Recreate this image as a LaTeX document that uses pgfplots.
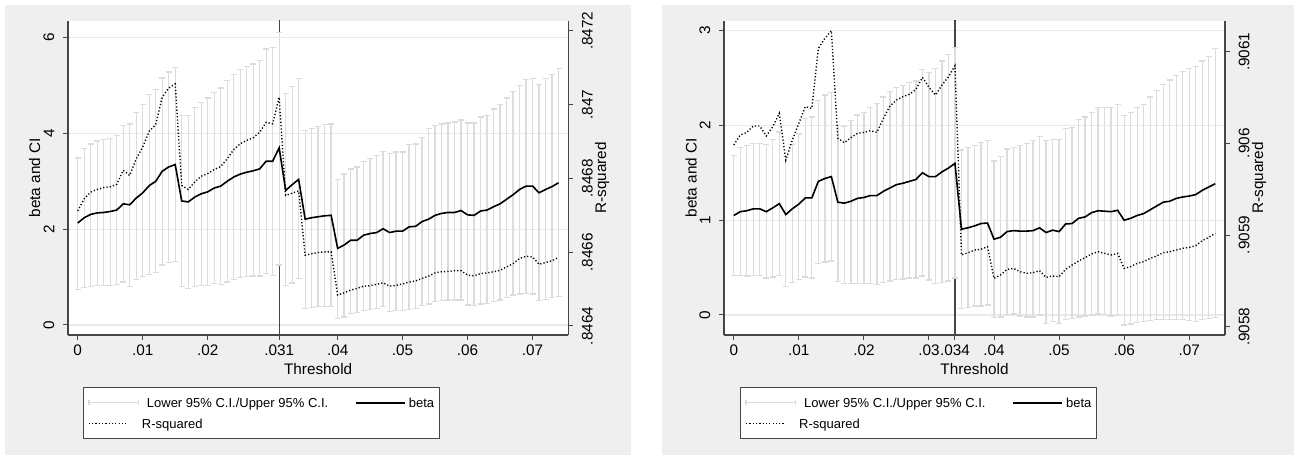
\documentclass[border=0pt]{standalone}
\usepackage{fontspec}
\setmainfont{Liberation Sans}
\usepackage{pgfplots}
\usepackage{pgfplotstable}
\pgfplotsset{compat=1.18}

\definecolor{panel}{RGB}{239,239,239}
\definecolor{cigray}{RGB}{220,220,220}
\definecolor{gridgray}{RGB}{234,234,234}
\definecolor{axisgray}{RGB}{70,70,70}

\newcommand{\axisfont}{\fontsize{15.3}{18}\selectfont}

% threshold, beta, lower CI, upper CI, R-squared
\pgfplotstableread{
x     b     lo    hi    r
0.000 2.13  0.74  3.49  .846712
0.001 2.24  0.78  3.69  .846745
0.002 2.31  0.81  3.78  .846763
0.003 2.34  0.83  3.84  .846770
0.004 2.35  0.83  3.875 .846775
0.005 2.37  0.83  3.90  .846777
0.006 2.40  0.85  3.96  .846784
0.007 2.53  0.90  4.17  .846822
0.008 2.51  0.81  4.20  .846808
0.009 2.65  0.95  4.43  .846853
0.010 2.76  1.01  4.60  .846885
0.011 2.91  1.06  4.81  .846928
0.012 3.00  1.09  4.92  .846946
0.013 3.21  1.25  5.16  .847020
0.014 3.30  1.30  5.28  .847045
0.015 3.35  1.32  5.37  .847056
0.016 2.59  0.80  4.375 .846781
0.017 2.57  0.76  4.375 .846770
0.018 2.67  0.81  4.535 .846790
0.019 2.74  0.83  4.65  .846806
0.020 2.78  0.83  4.74  .846813
0.021 2.86  0.87  4.86  .846824
0.022 2.90  0.85  4.95  .846832
0.023 3.00  0.90  5.10  .846853
0.024 3.09  0.95  5.23  .846878
0.025 3.15  0.99  5.33  .846894
0.026 3.19  1.01  5.40  .846903
0.027 3.22  1.02  5.45  .846910
0.028 3.26  1.02  5.52  .846925
0.029 3.42  1.08  5.76  .846952
0.030 3.42  1.04  5.80  .846948
0.031 3.70  1.25  6.11  .847020
0.032 2.81  0.83  4.84  .846754
0.033 2.93  0.88  4.98  .846760
0.034 3.04  0.97  5.14  .846766
0.035 2.21  0.35  4.06  .846592
0.036 2.24  0.37  4.11  .846596
0.037 2.26  0.38  4.15  .846599
0.038 2.28  0.38  4.19  .846601
0.039 2.29  0.38  4.20  .846601
0.040 1.60  0.14  3.04  .846484
0.041 1.67  0.17  3.15  .846490
0.042 1.77  0.24  3.26  .846497
0.043 1.77  0.26  3.30  .846502
0.044 1.875 0.31  3.42  .846508
0.045 1.91  0.33  3.47  .846509
0.046 1.93  0.35  3.54  .846513
0.047 2.01  0.38  3.63  .846517
0.048 1.93  0.28  3.58  .846508
0.049 1.96  0.30  3.61  .846510
0.050 1.96  0.31  3.61  .846514
0.051 2.05  0.33  3.77  .846519
0.052 2.06  0.35  3.78  .846522
0.053 2.16  0.40  3.92  .846529
0.054 2.21  0.44  4.11  .846535
0.055 2.29  0.49  4.17  .846544
0.056 2.33  0.51  4.20  .846547
0.057 2.35  0.52  4.22  .846548
0.058 2.35  0.52  4.24  .846550
0.059 2.39  0.52  4.28  .846550
0.060 2.30  0.42  4.22  .846538
0.061 2.29  0.40  4.22  .846536
0.062 2.38  0.44  4.34  .846542
0.063 2.40  0.45  4.375 .846544
0.064 2.47  0.49  4.51  .846547
0.065 2.53  0.52  4.60  .846551
0.066 2.625 0.58  4.74  .846560
0.067 2.72  0.625 4.88  .846569
0.068 2.83  0.65  5.00  .846583
0.069 2.90  0.66  5.125 .846589
0.070 2.90  0.65  5.15  .846587
0.071 2.76  0.51  5.02  .846567
0.072 2.83  0.53  5.14  .846572
0.073 2.89  0.57  5.23  .846577
0.074 2.97  0.60  5.35  .846586
}\leftdata

\pgfplotstableread{
x     b     lo     hi    r
0.000 1.05  0.42   1.68  .9059982
0.001 1.09  0.42   1.77  .9060091
0.002 1.10  0.41   1.79  .9060120
0.003 1.12  0.42   1.81  .9060189
0.004 1.12  0.42   1.81  .9060189
0.005 1.09  0.39   1.80  .9060080
0.006 1.13  0.40   1.85  .9060182
0.007 1.175 0.42   1.93  .9060327
0.008 1.06  0.30   1.68  .9059818
0.009 1.12  0.34   1.80  .9060036
0.010 1.17  0.375  1.91  .9060218
0.011 1.235 0.40   2.07  .9060400
0.012 1.235 0.39   2.09  .9060382
0.013 1.41  0.54   2.26  .9061036
0.014 1.44  0.56   2.32  .9061145
0.015 1.46  0.57   2.35  .9061229
0.016 1.19  0.35   2.00  .9060055
0.017 1.18  0.33   1.99  .9060007
0.018 1.20  0.33   2.05  .9060062
0.019 1.23  0.33   2.11  .9060109
0.020 1.24  0.33   2.14  .9060120
0.021 1.26  0.33   2.19  .9060138
0.022 1.26  0.32   2.23  .9060120
0.023 1.305 0.34   2.30  .9060273
0.024 1.34  0.36   2.36  .9060407
0.025 1.375 0.375  2.40  .9060473
0.026 1.39  0.38   2.42  .9060509
0.027 1.41  0.39   2.45  .9060535
0.028 1.43  0.39   2.47  .9060589
0.029 1.50  0.41   2.59  .9060720
0.030 1.46  0.37   2.56  .9060611
0.031 1.46  0.33   2.60  .9060527
0.032 1.51  0.34   2.68  .9060636
0.033 1.55  0.36   2.75  .9060727
0.034 1.60  0.39   2.82  .9060847
0.035 0.905 0.07   1.74  .9058782
0.036 0.92  0.08   1.77  .9058807
0.037 0.94  0.095  1.79  .9058836
0.038 0.965 0.095  1.82  .9058844
0.039 0.97  0.105  1.84  .9058873
0.040 0.80  -0.025 1.625 .9058527
0.041 0.82  -0.02  1.67  .9058564
0.042 0.88  0.007  1.75  .9058625
0.043 0.89  0.01   1.77  .9058636
0.044 0.885 -0.01  1.79  .9058600
0.045 0.885 -0.02  1.81  .9058582
0.046 0.89  -0.02  1.84  .9058589
0.047 0.92  0.0    1.88  .9058611
0.048 0.87  -0.09  1.84  .9058538
0.049 0.895 -0.07  1.85  .9058553
0.050 0.88  -0.09  1.85  .9058545
0.051 0.96  -0.045 1.965 .9058625
0.052 0.965 -0.035 1.975 .9058673
0.053 1.02  -0.02  2.06  .9058716
0.054 1.035 -0.01  2.09  .9058753
0.055 1.08  0.0    2.14  .9058793
0.056 1.10  0.01   2.19  .9058818
0.057 1.095 0.007  2.19  .9058800
0.058 1.09  -0.01  2.19  .9058782
0.059 1.105 -0.007 2.22  .9058800
0.060 1.00  -0.105 2.105 .9058636
0.061 1.02  -0.095 2.14  .9058655
0.062 1.05  -0.08  2.19  .9058691
0.063 1.07  -0.07  2.22  .9058709
0.064 1.11  -0.06  2.30  .9058745
0.065 1.15  -0.05  2.37  .9058771
0.066 1.19  -0.05  2.43  .9058807
0.067 1.20  -0.05  2.48  .9058818
0.068 1.23  -0.045 2.53  .9058836
0.069 1.245 -0.05  2.57  .9058855
0.070 1.255 -0.06  2.60  .9058865
0.071 1.27  -0.07  2.62  .9058884
0.072 1.315 -0.045 2.68  .9058938
0.073 1.35  -0.035 2.73  .9058975
0.074 1.385 -0.025 2.81  .9059018
}\rightdata

\pgfplotsset{
  panelbase/.style={
    scale only axis, anchor=south west, height=314.3pt,
    xmin=-0.0015, xmax=0.0755,
    scaled ticks=false,
    tick align=outside, major tick length=5pt,
    tick style={draw=axisgray, line width=1pt},
    axis line style={draw=axisgray, line width=1.1pt},
    tick label style={font=\axisfont},
  },
  mainaxis/.style={
    panelbase,
    axis x line*=bottom, axis y line*=left,
    axis background/.style={fill=white},
    ymajorgrids, major grid style={draw=gridgray, line width=1.1pt},
    xticklabel style={yshift=-5pt, anchor=north, inner sep=0pt},
    yticklabel style={xshift=-8.5pt, rotate=90, anchor=south, inner sep=0pt},
    xlabel={Threshold},
    ylabel={beta and CI},
    every axis x label/.style={at={(axis description cs:0.5,0)}, yshift=-39.8pt, anchor=base, font=\axisfont},
    legend columns=2, legend cell align=left,
    legend style={
      draw=axisgray, line width=0.9pt, fill=white,
      inner xsep=5pt, inner ysep=8.6pt,
      font=\fontsize{13}{15}\selectfont,
      nodes={inner xsep=0pt, inner ysep=0pt, text height=11pt, text depth=1.8pt},
      row sep=8.2pt,
      /tikz/every odd column/.append style={column sep=3pt},
      /tikz/every even column/.append style={column sep=27pt},
    },
  },
  twinaxis/.style={
    panelbase, axis x line=none, axis y line*=right,
    yticklabel style={xshift=8.5pt, rotate=90, anchor=north, inner sep=0pt},
    ylabel={R-squared},
  },
  cibars/.style={
    forget plot, draw=none, mark=none,
    error bars/.cd, y dir=both, y explicit,
    error mark=|,
    error bar style={draw=cigray, line width=1.3pt},
    error mark options={draw=cigray, line width=1.3pt, mark size=3pt},
  },
  betaline/.style={forget plot, black, line width=1.6pt, mark=none},
  rsqline/.style={black, line width=1.4pt, dash pattern=on 1.2pt off 2.1pt, mark=none},
  refline/.style={forget plot, draw=axisgray, line width=1.2pt, mark=none},
}

\newcommand{\legendkeys}{%
  \addlegendimage{legend image code/.code={
      \draw[cigray, line width=1.3pt] (0pt,0pt) -- (49.4pt,0pt);
      \draw[cigray, line width=1.3pt] (0pt,-2.5pt) -- (0pt,2.5pt);
      \draw[cigray, line width=1.3pt] (49.4pt,-2.5pt) -- (49.4pt,2.5pt);}}
  \addlegendentry{Lower 95\% C.I./Upper 95\% C.I.}
  \addlegendimage{legend image code/.code={
      \draw[black, line width=1.6pt] (0pt,0pt) -- (49pt,0pt);}}
  \addlegendentry{beta}
  \addlegendimage{legend image code/.code={
      \draw[black, line width=1.4pt, dash pattern=on 1.2pt off 2.1pt] (0pt,0pt) -- (39.4pt,0pt);}}
  \addlegendentry[xshift=-5pt]{R-squared}
}

\begin{document}
\begin{tikzpicture}
\useasboundingbox (0pt,0pt) rectangle (1294pt,455pt);
\fill[white] (0pt,0pt) rectangle (1294pt,455pt);
\fill[panel] (5pt,0pt) rectangle (631pt,450pt);
\fill[panel] (662pt,0pt) rectangle (1294pt,450pt);

% ---------- left panel ----------
\begin{axis}[mainaxis, at={(68pt,120pt)}, width=500.3pt,
  ymin=-0.2088, ymax=6.354,
  ytick={0,2,4,6}, yticklabels={0,2,4,6},
  xtick={0,0.01,0.02,0.031,0.04,0.05,0.06,0.07},
  xticklabels={0,.01,.02,.031,.04,.05,.06,.07},
  every axis y label/.style={at={(axis description cs:0,0.5)}, xshift=-28pt, rotate=90, anchor=base, font=\axisfont},
  legend style={at={(axis description cs:0.0294,-0.1664)}, anchor=north west}]
\addplot[refline] coordinates {(0.031,-1) (0.031,7)};
\addplot[cibars] table[x=x, y=b,
  y error plus expr=\thisrow{hi}-\thisrow{b},
  y error minus expr=\thisrow{b}-\thisrow{lo}] {\leftdata};
\addplot[betaline] table[x=x, y=b] {\leftdata};
\legendkeys
\end{axis}
\begin{axis}[twinaxis, at={(68pt,120pt)}, width=500.3pt,
  ymin=-0.244, ymax=8.274,
  ytick={0,2,4,6,8}, yticklabels={.8464,.8466,.8468,.847,.8472},
  every axis y label/.style={at={(axis description cs:1,0.5)}, xshift=37.7pt, rotate=90, anchor=base, font=\axisfont}]
\addplot[rsqline] table[x=x, y expr=(\thisrow{r}-0.8464)*10000] {\leftdata};
\end{axis}

% ---------- right panel ----------
\begin{axis}[mainaxis, at={(724pt,120pt)}, width=501pt,
  ymin=-0.211, ymax=3.105,
  ytick={0,1,2,3}, yticklabels={0,1,2,3},
  xtick={0,0.01,0.02,0.03,0.034,0.04,0.05,0.06,0.07},
  xticklabels={0,.01,.02,.03,.034,.04,.05,.06,.07},
  every axis y label/.style={at={(axis description cs:0,0.5)}, xshift=-27.5pt, rotate=90, anchor=base, font=\axisfont},
  legend style={at={(axis description cs:0.0319,-0.1664)}, anchor=north west}]
\addplot[refline] coordinates {(0.034,-1) (0.034,4)};
\addplot[cibars] table[x=x, y=b,
  y error plus expr=\thisrow{hi}-\thisrow{b},
  y error minus expr=\thisrow{b}-\thisrow{lo}] {\rightdata};
\addplot[betaline] table[x=x, y=b] {\rightdata};
\legendkeys
\end{axis}
\begin{axis}[twinaxis, at={(724pt,120pt)}, width=501pt,
  ymin=-0.0905, ymax=3.338,
  ytick={0,1,2,3}, yticklabels={.9058,.9059,.906,.9061},
  every axis y label/.style={at={(axis description cs:1,0.5)}, xshift=38pt, rotate=90, anchor=base, font=\axisfont}]
\addplot[rsqline] table[x=x, y expr=(\thisrow{r}-0.9058)*10000] {\rightdata};
\end{axis}
\end{tikzpicture}
\end{document}
